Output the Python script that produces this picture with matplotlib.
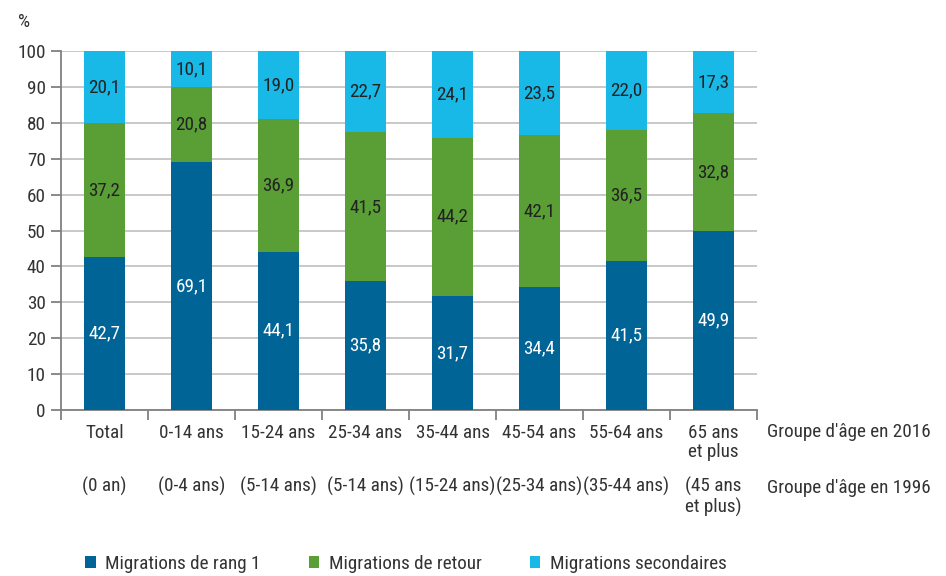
import matplotlib
matplotlib.use('Agg')
import matplotlib.pyplot as plt
import matplotlib.transforms as mtransforms
import numpy as np

plt.rcParams['font.family'] = ['Roboto Condensed', 'DejaVu Sans']

groups_2016 = ['Total', '0-14 ans', '15-24 ans', '25-34 ans', '35-44 ans',
               '45-54 ans', '55-64 ans', '65 ans\net plus']
groups_1996 = ['(0 an)', '(0-4 ans)', '(5-14 ans)', '(5-14 ans)', '(15-24 ans)',
               '(25-34 ans)', '(35-44 ans)', '(45 ans\net plus)']

rang1 = [42.7, 69.1, 44.1, 35.8, 31.7, 34.4, 41.5, 49.9]
retour = [37.2, 20.8, 36.9, 41.5, 44.2, 42.1, 36.5, 32.8]
secondaires = [20.1, 10.1, 19.0, 22.7, 24.1, 23.5, 22.0, 17.3]

series_names = ['Migrations de rang 1', 'Migrations de retour', 'Migrations secondaires']
colors = ['#006496', '#5a9e36', '#18b8e7']
text_colors = ['white', '#222222', '#222222']

txt = '#333333'
fs = 13.8

fig = plt.figure(figsize=(9.46, 5.76), dpi=100)
ax = fig.add_axes([61/946, 1 - 410/576, (757 - 61)/946, (410 - 51)/576])

x = np.arange(len(groups_2016))
bottom = np.zeros(len(x))
handles = []
for vals, col, tcol, name in zip([rang1, retour, secondaires], colors, text_colors, series_names):
    vals = np.array(vals)
    b = ax.bar(x, vals, 0.47, bottom=bottom, color=col, label=name, zorder=3)
    handles.append(b)
    for xi, v, b0 in zip(x, vals, bottom):
        ax.text(xi, b0 + v / 2, f'{v:.1f}'.replace('.', ','), ha='center', va='center',
                color=tcol, fontsize=fs, zorder=4)
    bottom += vals

ax.set_xlim(-0.5, len(x) - 0.5)
ax.set_ylim(0, 100)
ax.set_yticks(range(0, 101, 10))
ax.yaxis.grid(True, color='#c4c4c4', linewidth=1.3, zorder=0)
ax.set_axisbelow(True)

for s in ['top', 'right']:
    ax.spines[s].set_visible(False)
for s in ['left', 'bottom']:
    ax.spines[s].set_color('#808080')
    ax.spines[s].set_linewidth(1.3)

ax.tick_params(axis='y', length=7, width=1.3, color='#808080', labelsize=fs, labelcolor=txt, pad=4)
ax.set_xticks(x)
ax.set_xticklabels(groups_2016, fontsize=fs, color=txt, linespacing=1.1, va='top')
ax.tick_params(axis='x', which='major', length=0, pad=10)
ax.set_xticks(np.arange(-0.5, len(x), 1), minor=True)
ax.tick_params(axis='x', which='minor', length=7, width=1.3, color='#808080')

# second row of labels: age group in 1996
trans = mtransforms.blended_transform_factory(ax.transData, fig.transFigure)
for xi, lab in zip(x, groups_1996):
    ax.text(xi, 1 - 477/576, lab, transform=trans, ha='center', va='top',
            fontsize=fs, color=txt, linespacing=1.1)

fig.text(767/946, 1 - 432/576, "Groupe d'âge en 2016", ha='left', va='center', fontsize=fs, color=txt)
fig.text(767/946, 1 - 488/576, "Groupe d'âge en 1996", ha='left', va='center', fontsize=fs, color=txt)
fig.text(18/946, 1 - 22/576, '%', ha='left', va='center', fontsize=fs, color=txt)

fig.legend(handles=handles, labels=series_names, loc='center left',
           bbox_to_anchor=(68/946, 1 - 564/576), ncol=3, frameon=False,
           fontsize=fs, handlelength=0.55, handleheight=0.55, handletextpad=0.5,
           columnspacing=2.5, labelcolor=txt)

fig.savefig('out.png', dpi=100)
